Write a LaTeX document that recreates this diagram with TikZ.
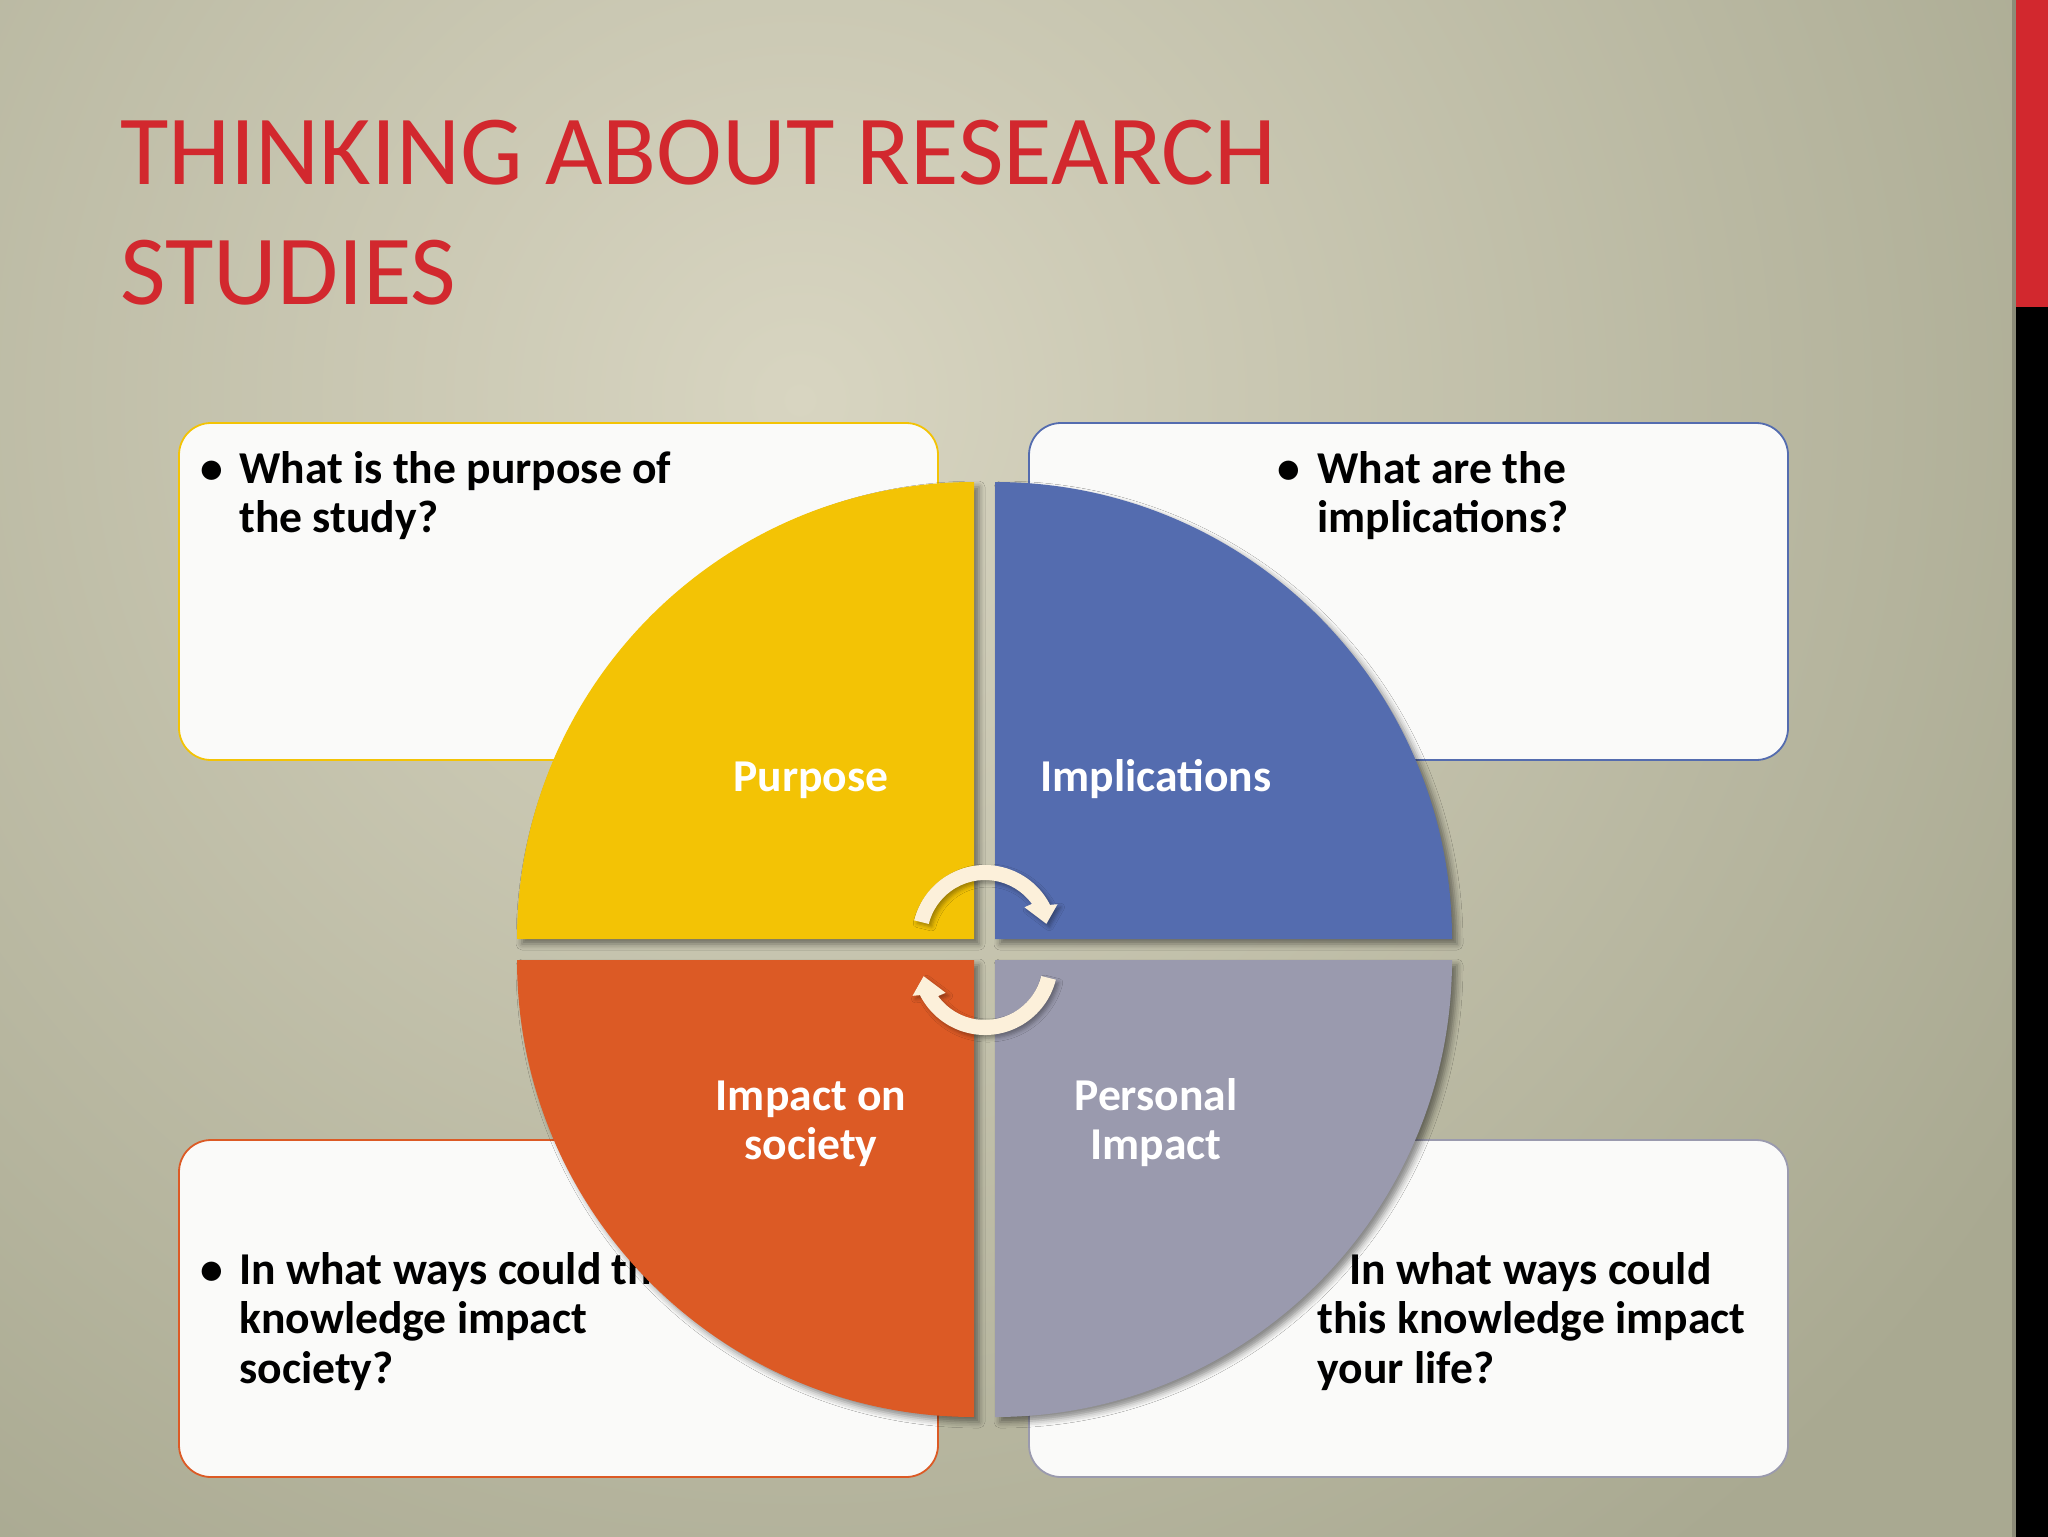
\documentclass[tikz,border=0pt]{standalone}
\usepackage{fontspec}
\setmainfont{Carlito}
\usetikzlibrary{shadows.blur,calc}
\definecolor{bgin}{HTML}{D8D5C1}
\definecolor{bgout}{HTML}{A9A991}
\definecolor{titlered}{HTML}{D2282E}
\definecolor{qyellow}{HTML}{F3C305}
\definecolor{qblue}{HTML}{546CAF}
\definecolor{qorange}{HTML}{DC5A25}
\definecolor{qgrey}{HTML}{9A9AAE}
\definecolor{arrowcream}{HTML}{FCF0DA}
\definecolor{boxfill}{HTML}{FAFAF9}
\definecolor{bargrey}{HTML}{8C8B78}
\newcommand{\mylines}[1]{\vtop{\baselineskip=24.8pt\halign{##\hfil\cr#1\crcr}}}
\newcommand{\mycl}[1]{\vtop{\baselineskip=24.8pt\halign{\hfil##\hfil\cr#1\crcr}}}
\tikzset{
  qbox/.style={draw, line width=0.9pt, fill=boxfill, rounded corners=16pt,
    minimum width=379.5pt, minimum height=168.5pt, inner sep=0pt, outer sep=0pt},
  qtext/.style={anchor=base west, inner sep=0pt,
    font=\fontsize{22.8}{24.8}\selectfont\bfseries, text=black},
  qbullet/.style={anchor=base, inner sep=0pt,
    font=\fontsize{22.8}{24.8}\selectfont\bfseries, text=black},
  qlabel/.style={anchor=base, inner sep=0pt,
    font=\fontsize{22.8}{24.8}\selectfont\bfseries, text=white},
  titletext/.style={anchor=base west, inner sep=0pt,
    font=\fontsize{49.6}{60}\selectfont, text=titlered},
  quad/.style={blur shadow={shadow xshift=2.5pt, shadow yshift=-2.5pt,
    shadow blur radius=3pt, shadow opacity=45}},
  arrowshape/.style={fill=arrowcream, blur shadow={shadow xshift=1.5pt,
    shadow yshift=-1.5pt, shadow blur radius=2pt, shadow opacity=35}},
}
\begin{document}
\begin{tikzpicture}[x=0.5pt,y=-0.5pt]
\useasboundingbox (0,0) rectangle (2048,1536);
% background
\fill[bgout] (-20,-20) rectangle (2068,1556);
\begin{scope}
\clip (-20,-20) rectangle (2068,1556);
\shade[inner color=bgin, outer color=bgout] (800,400) circle[radius=1450];
\end{scope}
% right bar
\fill[bargrey] (2012,-20) rectangle (2016,1556);
\fill[titlered] (2016,-20) rectangle (2068,307);
\fill[black] (2016,307) rectangle (2068,1556);
% title
\node[titletext] (t1) at (120,184) {THINKING ABOUT RESEARCH};
\node[titletext] (t2) at (120,304) {STUDIES};
% boxes
\node[qbox, draw=qyellow] (boxTL) at (558.5,591.5) {};
\node[qbox, draw=qblue] (boxTR) at (1408.5,591.5) {};
\node[qbox, draw=qorange] (boxBL) at (558.5,1308.5) {};
\node[qbox, draw=qgrey] (boxBR) at (1408.5,1308.5) {};
% box texts
\node[qbullet] (bTL) at (212,483) {\textbullet};
\node[qtext] (tTL) at (239,483) {\mylines{What is the purpose of\cr the study?}};
\node[qbullet] (bTR) at (1289,483) {\textbullet};
\node[qtext] (tTR) at (1317,483) {\mylines{What are the\cr implications?}};
\node[qbullet] (bBL) at (212,1284) {\textbullet};
\node[qtext] (tBL) at (239,1284) {\mylines{In what ways could this\cr knowledge impact\cr society?}};
\node[qtext] (tBR) at (1317,1284) {\mylines{\hspace*{16pt}In what ways could\cr this knowledge impact\cr your life?}};
% quadrants
\fill[qyellow, quad] (974,939) -- (517,939) arc[start angle=180, end angle=270, radius=457] -- cycle;
\fill[qblue, quad] (995,939) -- (995,482) arc[start angle=270, end angle=360, radius=457] -- cycle;
\fill[qgrey, quad] (995,960) -- (1452,960) arc[start angle=0, end angle=90, radius=457] -- cycle;
\fill[qorange, quad] (974,960) -- (974,1417) arc[start angle=90, end angle=180, radius=457] -- cycle;
% quadrant labels
\node[qlabel] (lP) at (811,791) {Purpose};
\node[qlabel] (lI) at (1156,791) {Implications};
\node[qlabel] (lS) at (811,1110) {\mycl{Impact on\cr society}};
\node[qlabel] (lPI) at (1156,1110) {\mycl{Personal\cr Impact}};
% cycle arrows
\coordinate (ca) at (985,938);
\coordinate (cb) at (985,962);
\fill[arrowshape] ($(ca)+(-166:73)$) arc[start angle=-166, end angle=-27, radius=73]
  -- ($(ca)+(-25:80)$) -- ($(ca)+(-13:63)$) -- ($(ca)+(-38:50)$)
  -- ($(ca)+(-36:58)$) arc[start angle=-36, end angle=-166, radius=58] -- cycle;
\fill[arrowshape] ($(cb)+(14:73)$) arc[start angle=14, end angle=153, radius=73]
  -- ($(cb)+(155:80)$) -- ($(cb)+(167:63)$) -- ($(cb)+(142:50)$)
  -- ($(cb)+(144:58)$) arc[start angle=144, end angle=14, radius=58] -- cycle;
\end{tikzpicture}
\end{document}
